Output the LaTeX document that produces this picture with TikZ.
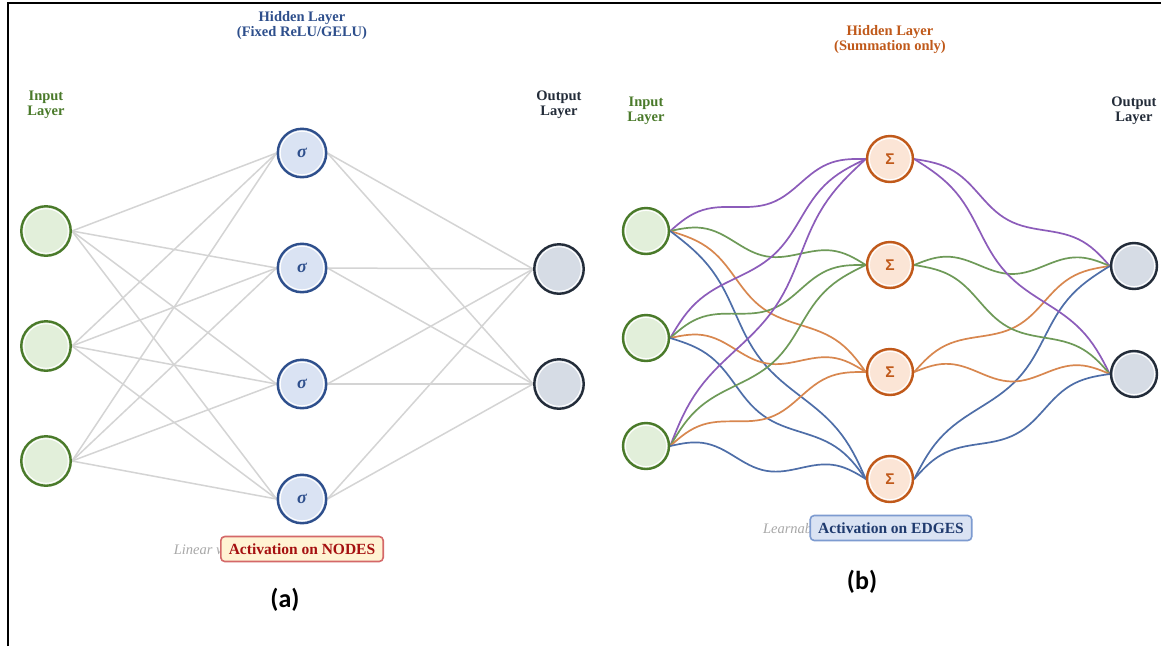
\documentclass[tikz,border=0pt]{standalone}
\usepackage{fontspec}
\setmainfont{Liberation Serif}
\newfontfamily\labfont{Carlito}
\newfontfamily\sigmafont{Liberation Sans}
\usetikzlibrary{calc}
\pgfdeclarelayer{bg}
\pgfdeclarelayer{paper}
\pgfsetlayers{paper,bg,main}
\definecolor{ingreen}{HTML}{4A7A2A}
\definecolor{ingreenfill}{HTML}{E2EFDA}
\definecolor{hidblue}{HTML}{2E4F8C}
\definecolor{hidbluefill}{HTML}{DAE3F3}
\definecolor{outdark}{HTML}{232C39}
\definecolor{outfill}{HTML}{D6DCE5}
\definecolor{sumorange}{HTML}{C0591A}
\definecolor{sumfill}{HTML}{FBE5D6}
\definecolor{edgegray}{HTML}{D4D4D4}
\definecolor{cpurple}{HTML}{8C5CBA}
\definecolor{cgreen}{HTML}{6E9A58}
\definecolor{corange}{HTML}{D8874F}
\definecolor{cblue}{HTML}{4E6EA8}
\definecolor{redtxt}{HTML}{A51010}
\definecolor{redbox}{HTML}{D46868}
\definecolor{yellowfill}{HTML}{FFF3D3}
\definecolor{bluetxt}{HTML}{1F3A6E}
\definecolor{bluebox}{HTML}{7D9BD0}
\definecolor{lightgraytxt}{HTML}{A8A8A8}
\newcommand\wamp{8.5}
\newcommand\wig[3]{\draw[curve,#3] let \p1=(#1.east), \p2=(#2.west), \n1={veclen(\x2-\x1,\y2-\y1)} in
  plot[domain=0:1,samples=45,variable=\t]
  ({\x1+(\x2-\x1)*\t-\wamp*(\y2-\y1)/\n1*sin(540*\t)},{\y1+(\y2-\y1)*\t+\wamp*(\x2-\x1)/\n1*sin(540*\t)});}
\begin{document}
\begin{tikzpicture}[x=1pt,y=-1pt,
  neuron/.style={circle,inner sep=0pt,line width=2.4pt,minimum size=#1},
  inring/.style={path picture={\draw[white,line width=1pt] (path picture bounding box.center) circle[radius=#1];}},
  inL/.style={neuron=49.5pt,draw=ingreen,fill=ingreenfill,inring=22.3pt},
  hidL/.style={neuron=48.5pt,draw=hidblue,fill=hidbluefill,inring=21.8pt,text=hidblue,font=\bfseries\itshape\fontsize{18}{18}\selectfont},
  outL/.style={neuron=49.5pt,draw=outdark,fill=outfill,inring=22.3pt},
  inR/.style={neuron=46pt,draw=ingreen,fill=ingreenfill,inring=20.6pt},
  hidR/.style={neuron=46pt,draw=sumorange,fill=sumfill,inring=20.6pt,text=sumorange,font=\sigmafont\bfseries\fontsize{15.5}{15.5}\selectfont},
  outR/.style={neuron=46pt,draw=outdark,fill=outfill,inring=20.6pt},
  grayedge/.style={draw=edgegray,line width=1.5pt},
  curve/.style={line width=1.7pt,line join=round,line cap=round},
  lab/.style={font=\bfseries\fontsize{14.5}{15}\selectfont,align=center,inner sep=0pt},
  actbox/.style={draw,rounded corners=4pt,line width=1.6pt,font=\bfseries\fontsize{15.5}{16}\selectfont,inner xsep=8pt,minimum height=25pt},
  faint/.style={font=\itshape\fontsize{14.5}{15}\selectfont,text=lightgraytxt,inner sep=0pt},
  panel/.style={font=\labfont\bfseries\fontsize{26}{28}\selectfont,inner sep=0pt}
]
\useasboundingbox (0,0) rectangle (1161,646);
\begin{pgfonlayer}{paper}
\fill[white] (0,0) rectangle (1161,646);
\end{pgfonlayer}
\draw[line width=2.2pt] (8,646) -- (8,3) -- (1161,3);

% ---------- (a) ----------
\node[lab,text=ingreen] (la1) at (46,105) {Input\\Layer};
\node[lab,text=hidblue] (la2) at (302,26) {Hidden Layer\\(Fixed ReLU/GELU)};
\node[lab,text=outdark] (la3) at (559,105) {Output\\Layer};

\node[inL] (ai1) at (46,231) {};
\node[inL] (ai2) at (46,346) {};
\node[inL] (ai3) at (46,461) {};
\node[hidL] (ah1) at (302,153) {σ};
\node[hidL] (ah2) at (302,268) {σ};
\node[hidL] (ah3) at (302,384) {σ};
\node[hidL] (ah4) at (302,499) {σ};
\node[outL] (ao1) at (559,269) {};
\node[outL] (ao2) at (559,384) {};

\begin{pgfonlayer}{bg}
\foreach \i in {1,2,3}{\foreach \j in {1,2,3,4}{\draw[grayedge] (ai\i.east) -- (ah\j.west);}}
\foreach \j in {1,2,3,4}{\foreach \k in {1,2}{\draw[grayedge] (ah\j.east) -- (ao\k.west);}}
\end{pgfonlayer}

\node[actbox,draw=redbox,fill=yellowfill,text=redtxt] (ba) at (302,549) {Activation on NODES};
\begin{pgfonlayer}{bg}
\node[faint,anchor=base east] (lw) at ($(ba.base west)+(6,0)$) {Linear w};
\end{pgfonlayer}
\node[panel] (pa) at (285,600) {(a)};

% ---------- (b) ----------
\node[lab,text=ingreen] (lb1) at (646,111) {Input\\Layer};
\node[lab,text=sumorange] (lb2) at (890,40) {Hidden Layer\\(Summation only)};
\node[lab,text=outdark] (lb3) at (1134,111) {Output\\Layer};

\node[inR] (bi1) at (646,231) {};
\node[inR] (bi2) at (646,338) {};
\node[inR] (bi3) at (646,446) {};
\node[hidR] (bh1) at (890,159) {Σ};
\node[hidR] (bh2) at (890,265) {Σ};
\node[hidR] (bh3) at (890,372) {Σ};
\node[hidR] (bh4) at (890,479) {Σ};
\node[outR] (bo1) at (1134,266) {};
\node[outR] (bo2) at (1134,374) {};

\begin{pgfonlayer}{bg}
\foreach \i in {1,2,3}{
  \wig{bi\i}{bh1}{cpurple}
  \wig{bi\i}{bh2}{cgreen}
  \wig{bi\i}{bh3}{corange}
  \wig{bi\i}{bh4}{cblue}
}
\foreach \k in {1,2}{
  \wig{bh1}{bo\k}{cpurple}
  \wig{bh2}{bo\k}{cgreen}
  \wig{bh3}{bo\k}{corange}
  \wig{bh4}{bo\k}{cblue}
}
\end{pgfonlayer}

\node[actbox,draw=bluebox,fill=hidbluefill,text=bluetxt] (bb) at (891,528) {Activation on EDGES};
\begin{pgfonlayer}{bg}
\node[faint,anchor=base east] (lb) at ($(bb.base west)+(3,0)$) {Learnab};
\end{pgfonlayer}
\node[panel] (pb) at (862,582) {(b)};
\end{tikzpicture}
\end{document}
